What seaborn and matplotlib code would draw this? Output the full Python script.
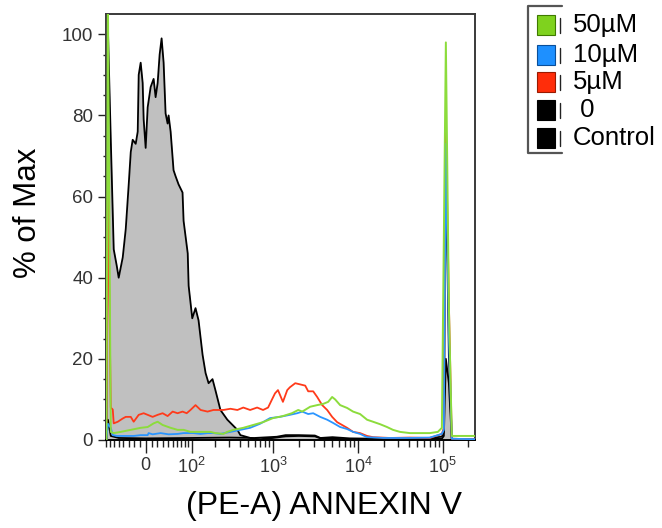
import numpy as np
import matplotlib
matplotlib.use("Agg")
import matplotlib.pyplot as plt
import seaborn as sns
from matplotlib.patches import Rectangle
from matplotlib.lines import Line2D

sns.set_theme(style="white")
plt.rcParams["font.family"] = ["Liberation Sans", "DejaVu Sans"]
plt.rcParams["mathtext.fontset"] = "custom"
plt.rcParams["mathtext.rm"] = "Liberation Sans"
plt.rcParams["mathtext.it"] = "Liberation Sans:italic"
plt.rcParams["mathtext.bf"] = "Liberation Sans:bold"

# ---- histogram data: PE-A intensity vs % of max ----
control_x = [-80, -76, -68.5, -61.3, -54.4, -50, -41.5, -35.5, -29.8, -26,
             -22.5, -17.1, -13.6, -11.9, -8.5, -5.1, -3.4, 0, 3.4, 8.5,
             13.6, 17.1, 20.7, 24.3, 27.9, 31.7, 35.5, 39.5, 41.5, 45.7,
             52, 56.6, 63.6, 73.6, 76.4, 88, 90.7, 102, 113, 124,
             140, 153, 167, 187, 203, 234, 284, 375, 407, 578,
             700, 1000, 1400, 2000, 3100, 3600, 5000, 8000, 20000, 50000,
             97560, 103000, 108750, 118000, 127800, 240000]
control_y = [0, 101.5, 74, 47, 43, 40, 45, 52, 63, 71,
             74, 73, 76, 90, 93, 88, 79, 72, 82, 87,
             89, 84.5, 88, 95, 99, 93, 80.5, 78, 80, 76,
             66.5, 65, 63, 61, 54, 46, 38, 30, 32.5, 29.5,
             21, 16.5, 14, 15, 12.3, 7.4, 5, 2.5, 1.2, 0.3,
             0.2, 0.5, 0.9, 1.0, 0.9, 0.4, 0.3, 0.2, 0.2, 0.2,
             0.3, 1.0, 20, 14, 0, 0]

zero_x = [-80, -76, -68.5, -50, 0, 100, 300, 600, 1100, 1400,
          2000, 3100, 3600, 5000, 8000, 20000, 60000, 97560, 103000, 108750,
          118000, 127800, 240000]
zero_y = [0, 5, 1.0, 0.5, 0.4, 0.5, 0.6, 0.5, 0.8, 1.2,
          1.2, 1.1, 0.5, 0.7, 0.4, 0.3, 0.4, 0.8, 2.0, 69,
          21, 0.3, 0.2]

uM5_x = [-80, -76, -68.5, -63.6, -61.3, -52, -41.5, -35.5, -26, -20.7,
         -11.9, -3.4, 3.4, 11.9, 20.7, 29.8, 39.5, 50, 61.2, 73.6,
         85, 96.3, 113, 132, 162, 192, 254, 309, 375, 441,
         532, 644, 757, 868, 966, 1048, 1136, 1300, 1462, 1572,
         1817, 2081, 2383, 2584, 2959, 3299, 3778, 4325, 4953, 5672,
         6494, 7437, 8748, 10575, 12785, 15041, 23840, 40986, 70438, 97560,
         103000, 108750, 118000, 127800, 240000]
uM5_y = [0, 62, 8, 7.5, 4.1, 4.5, 5.3, 5.7, 5.7, 4.5,
         6.2, 6.6, 6.2, 5.7, 6.2, 6.6, 5.9, 7.0, 6.6, 7.0,
         6.6, 7.4, 8.6, 7.4, 7.0, 7.4, 7.4, 7.7, 7.4, 8.0,
         7.4, 8.0, 7.4, 8.0, 10.0, 11.5, 12.3, 9.4, 12.3, 13.0,
         14.0, 13.7, 13.4, 12.0, 12.0, 10.6, 8.6, 7.4, 5.7, 4.4,
         3.7, 3.0, 2.0, 1.7, 1.0, 0.7, 0.5, 0.6, 0.5, 1.5,
         3.0, 77, 34, 0.3, 0.2]

uM10_x = [-80, -76, -68.5, -63.6, -54, -35.5, -20.7, -8.5, 3.4, 5,
          11.9, 26, 41.5, 61.2, 76.4, 106, 132, 162, 192, 234,
          309, 407, 532, 698, 916, 1199, 1572, 1919, 2197, 2584,
          2959, 3578, 4325, 5089, 6151, 7437, 8748, 10575, 12785, 20000,
          40000, 70438, 97560, 103000, 108750, 118000, 127800, 240000]
uM10_y = [0, 4, 3, 1.2, 1.0, 1.0, 1.0, 1.2, 1.2, 1.7,
          1.4, 1.7, 1.4, 1.5, 1.7, 1.7, 1.5, 1.7, 1.7, 1.5,
          2.0, 2.5, 3.0, 4.0, 5.4, 5.7, 6.2, 6.6, 7.0, 6.4,
          6.6, 5.7, 5.0, 4.2, 3.2, 2.7, 2.0, 1.5, 0.7, 0.5,
          0.5, 0.6, 1.5, 2.5, 73, 26, 0.3, 0.2]

uM50_x = [-80, -76, -68.5, -61.3, -45.7, -26, -8.5, 3.4, 13.6, 20.7,
          29.8, 45.7, 61.2, 76.4, 96.3, 132, 176, 203, 254, 284,
          336, 441, 578, 757, 993, 1300, 1659, 1971, 2197, 2729,
          3299, 3881, 4444, 4953, 5372, 6151, 7437, 8748, 10575, 12785,
          15041, 18181, 21980, 25857, 31256, 40986, 53737, 70438, 87500, 97560,
          108750, 118000, 127800, 240000]
uM50_y = [0, 110, 2.0, 1.7, 2.0, 2.5, 3.0, 3.2, 4.1, 4.5,
          3.7, 3.0, 2.5, 2.5, 2.0, 2.0, 2.0, 1.7, 1.5, 2.0,
          2.5, 3.0, 3.7, 4.4, 5.4, 5.9, 6.6, 7.4, 7.0, 8.2,
          8.6, 8.9, 9.4, 10.6, 10.0, 8.6, 7.9, 7.0, 6.4, 5.0,
          4.5, 3.9, 3.2, 2.5, 2.0, 1.7, 1.7, 1.7, 2.0, 3.0,
          98, 33, 1.0, 1.0]

legend_labels = ["50\u00b5M", "10\u00b5M", "5\u00b5M", " 0", "Control"]
legend_colors = ["#7fd21e", "#1e90ff", "#ff2d0a", "#000000", "#000000"]
legend_edges = ["#3f7a00", "#0a4f9a", "#9a1a00", "#000000", "#000000"]

x_major = [0, 1e2, 1e3, 1e4, 1e5]
x_major_labels = ["0", r"$10^{2}$", r"$10^{3}$", r"$10^{4}$", r"$10^{5}$"]
y_major = [0, 20, 40, 60, 80, 100]

# biexponential-like display transform (arcsinh)
W = 62.5


def fwd(v):
    return np.arcsinh(np.asarray(v, dtype=float) / W)


def inv(v):
    return W * np.sinh(np.asarray(v, dtype=float))


W_PX, H_PX = 662, 528
fig = plt.figure(figsize=(W_PX / 100, H_PX / 100), dpi=100)
L, R, T, B = 105.7, 475, 14, 440
ax = fig.add_axes([L / W_PX, 1 - B / H_PX, (R - L) / W_PX, (B - T) / H_PX])
ax.set_xscale("function", functions=(fwd, inv))
ax.set_xlim(-82, 240000)
ax.set_ylim(0, 105)

# control histogram: filled grey with black outline
ax.fill_between(control_x, control_y, 0, color="#c0c0c0", lw=0, zorder=1)
sns.lineplot(x=control_x, y=control_y, ax=ax, color="black", lw=1.3,
             sort=False, estimator=None, zorder=2)
sns.lineplot(x=zero_x, y=zero_y, ax=ax, color="black", lw=1.3,
             sort=False, estimator=None, zorder=3)
sns.lineplot(x=uM5_x, y=uM5_y, ax=ax, color="#ff3a1a", lw=1.3,
             sort=False, estimator=None, zorder=4)
sns.lineplot(x=uM10_x, y=uM10_y, ax=ax, color="#2a95ff", lw=1.3,
             sort=False, estimator=None, zorder=5)
sns.lineplot(x=uM50_x, y=uM50_y, ax=ax, color="#8cdc3c", lw=1.4,
             sort=False, estimator=None, zorder=6)

# axis ticks
minor = [v for v in range(-80, 0, 10)] + [v for v in range(10, 100, 10)]
for dec in [1e2, 1e3, 1e4]:
    minor += [m * dec for m in range(2, 10)]
minor += [2e5]
ax.set_xticks(x_major)
ax.set_xticklabels(x_major_labels)
ax.set_xticks(minor, minor=True)
ax.set_yticks(y_major)
ax.set_yticks(np.arange(0, 105, 5), minor=True)
ax.tick_params(axis="x", which="major", direction="out", length=9.5, width=1.0,
               color="#222222", labelsize=13, labelcolor="#333333", pad=3,
               bottom=True)
ax.tick_params(axis="x", which="minor", direction="out", length=5, width=1.0,
               color="#222222", bottom=True)
ax.tick_params(axis="y", which="major", direction="out", length=6, width=1.0,
               color="#222222", labelsize=13.5, labelcolor="#333333", pad=3,
               left=True)
ax.tick_params(axis="y", which="minor", direction="out", length=2.5, width=1.0,
               color="#222222", left=True)

for name, sp in ax.spines.items():
    sp.set_color("#3a3a3a")
    sp.set_linewidth(1.4)
ax.spines["bottom"].set_color("black")

ax.set_xlabel("(PE-A) ANNEXIN V", fontsize=23, color="black")
ax.set_ylabel("% of Max", fontsize=22.5, color="black")
ax.xaxis.set_label_coords((324 - L) / (R - L), (B - 491) / (B - T))
ax.yaxis.set_label_coords((43.5 - L) / (R - L), (B - 212.5) / (B - T))


def fx(px):
    return px / W_PX


def fy(py):
    return 1 - py / H_PX


# legend: bracket, colour swatches and labels
bracket = Line2D([fx(562), fx(528.3), fx(528.3), fx(562)],
                 [fy(6), fy(6), fy(153), fy(153)],
                 transform=fig.transFigure, color="#555555", lw=1.6)
fig.add_artist(bracket)
centers = [25, 55, 82, 110, 138]
for lab, col, edge, cy in zip(legend_labels, legend_colors, legend_edges, centers):
    fig.add_artist(Rectangle((fx(537), fy(cy + 10)), 18 / W_PX, 20 / H_PX,
                             transform=fig.transFigure, facecolor=col,
                             edgecolor=edge, lw=0.8))
    fig.add_artist(Line2D([fx(560.3), fx(560.3)], [fy(cy - 7), fy(cy + 8)],
                          transform=fig.transFigure, color="#222222", lw=1.0))
    fig.text(fx(573), fy(cy), lab, fontsize=18.5, color="black",
             ha="left", va="center")

fig.savefig("out.png", dpi=100)
